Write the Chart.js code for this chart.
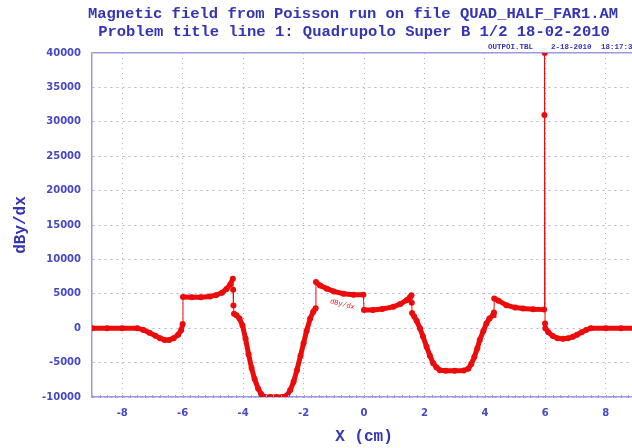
<!DOCTYPE html>
<html>
<head>
<meta charset="utf-8">
<script src="https://cdn.jsdelivr.net/npm/chart.js@4"></script>
<style>
  html, body { margin: 0; padding: 0; background: #fff; overflow: hidden; }
  #wrap { position: relative; width: 640px; height: 448px; }
</style>
</head>
<body>
<div id="wrap"><canvas id="field"></canvas></div>
<script>
// dBy/dx along X (cm) from the Poisson run
const xPos = [
  -9.0, -8.5, -8.0, -7.5, -7.3, -7.1, -6.9, -6.75, -6.6, -6.45, -6.3, -6.15, -6.05, -6.0,
  -5.99, -5.7, -5.4, -5.1, -4.9, -4.7, -4.55, -4.42, -4.34, -4.33, -4.32, -4.30,
  -4.22, -4.12, -4.02, -3.92, -3.82, -3.72, -3.62, -3.50, -3.40, -3.30, -3.10, -2.90, -2.70,
  -2.55, -2.44, -2.33, -2.22, -2.10, -2.00, -1.90, -1.78, -1.68, -1.60,
  -1.59, -1.45, -1.23, -1.00, -0.68, -0.35, -0.02,
  0.00, 0.30, 0.60, 0.97, 1.20, 1.41, 1.52, 1.57, 1.58, 1.59,
  1.66, 1.74, 1.85, 1.95, 2.07, 2.18, 2.29, 2.40, 2.51, 2.70, 3.00, 3.30,
  3.45, 3.55, 3.65, 3.75, 3.83, 3.95, 4.05, 4.15, 4.27, 4.30,
  4.31, 4.45, 4.71, 5.00, 5.26, 5.60, 5.96, 5.97, 5.98, 5.99, 6.00,
  6.10, 6.25, 6.40, 6.58, 6.75, 6.91, 7.05, 7.20, 7.35, 7.50, 8.0, 8.5, 9.0
];
const dBydx = [
  0, 0, 0, 0, -250, -650, -1100, -1450, -1700, -1700, -1450, -950, -300, 600,
  4550, 4500, 4500, 4600, 4800, 5150, 5700, 6400, 7200, 5600, 3300, 2100,
  1900, 1400, 400, -1500, -3800, -5800, -7400, -8800, -9600, -9950, -10000, -10000, -10000,
  -9800, -9000, -7800, -6100, -4000, -2200, -400, 1400, 2400, 2900,
  6700, 6200, 5750, 5350, 5000, 4850, 4850,
  2650, 2650, 2800, 3100, 3500, 4070, 4500, 4800, 3700, 2200,
  1700, 1100, 0, -1200, -2700, -4000, -5100, -5700, -6100, -6200, -6200, -6150,
  -5900, -5200, -4200, -2900, -1700, -400, 700, 1400, 1900, 2300,
  4300, 4000, 3350, 3000, 2850, 2750, 2700, 31000, 40000, 700, 0,
  -600, -1150, -1450, -1550, -1450, -1250, -950, -600, -250, 0, 0, 0, 0
];

const xTicks = [-8, -6, -4, -2, 0, 2, 4, 6, 8];
const yTicks = [-10000, -5000, 0, 5000, 10000, 15000, 20000, 25000, 30000, 35000, 40000];

const titleLines = [
  "Magnetic field from Poisson run on file QUAD_HALF_FAR1.AM",
  "Problem title line 1: Quadrupolo Super B 1/2 18-02-2010"
];
const stamp = ["OUTPOI.TBL", "2-18-2010", "18:17:3"];
const curveName = "dBy/dx";

const inkBlue = "#3434b4";
const tickBlue = "#4848c4";
const axisBlue = "#9a9adc";
const gridBlue = "#b0b0e4";
const red = "#ec0b0b";

// titles, file stamp, minor ticks and the in-plot curve name
const decorations = {
  id: "decorations",
  afterDraw(chart) {
    const { ctx, chartArea, scales: { x, y } } = chart;
    ctx.save();

    ctx.fillStyle = inkBlue;
    ctx.font = 'bold 15.5px "Liberation Mono"';
    ctx.textAlign = "center";
    ctx.textBaseline = "middle";
    ctx.fillText(titleLines[0], 353, 14);
    ctx.fillText(titleLines[1], 354, 32);

    ctx.font = 'bold 7.5px "Liberation Mono"';
    ctx.textAlign = "left";
    ctx.textBaseline = "alphabetic";
    ctx.fillText(stamp[0], 488, 49);
    ctx.fillText(stamp[1], 551, 49);
    ctx.fillText(stamp[2], 601, 49);

    // small minor ticks along the X axis
    ctx.strokeStyle = axisBlue;
    ctx.lineWidth = 1;
    ctx.beginPath();
    for (let v = -9; v <= 9.001; v += 0.25) {
      const px = Math.round(x.getPixelForValue(v)) + 0.5;
      ctx.moveTo(px, chartArea.bottom - 2);
      ctx.lineTo(px, chartArea.bottom + 1);
    }
    ctx.stroke();

    ctx.fillStyle = red;
    ctx.font = '7px "Liberation Mono"';
    ctx.textAlign = "center";
    ctx.translate(x.getPixelForValue(-0.73), y.getPixelForValue(3200));
    ctx.rotate(0.26);
    ctx.fillText(curveName, 0, 0);
    ctx.restore();
  }
};

new Chart(document.getElementById("field"), {
  type: "line",
  data: {
    datasets: [{
      data: xPos.map((v, i) => ({ x: v, y: dBydx[i] })),
      borderColor: red,
      backgroundColor: red,
      borderWidth: 5,
      pointRadius: 3,
      pointBorderWidth: 0,
      pointBackgroundColor: red,
      tension: 0,
      segment: {
        // the vertical jumps are drawn as thin connecting lines
        borderWidth: c => Math.abs(c.p1.parsed.x - c.p0.parsed.x) < 0.025 ? 1 : 5
      }
    }]
  },
  options: {
    responsive: true,
    maintainAspectRatio: false,
    animation: false,
    layout: { padding: { top: 53, right: 3, left: 0, bottom: 0 } },
    plugins: { legend: { display: false }, tooltip: { enabled: false } },
    scales: {
      x: {
        type: "linear",
        min: -9,
        max: 9,
        afterFit: s => { s.height = 51; },
        afterBuildTicks: s => { s.ticks = xTicks.map(v => ({ value: v })); },
        ticks: {
          padding: 10,
          color: tickBlue,
          font: { family: "DejaVu Sans", size: 10, weight: "bold" },
          callback: v => String(v)
        },
        grid: { color: gridBlue, lineWidth: 1, drawTicks: false },
        border: { color: axisBlue, width: 1.5, dash: [1, 4] },
        title: {
          display: true,
          text: "X (cm)",
          color: inkBlue,
          font: { family: "Liberation Mono", size: 16, weight: "bold" },
          padding: { top: 0, bottom: 1 }
        }
      },
      y: {
        min: -10000,
        max: 40000,
        afterFit: s => { s.width = 92; },
        afterBuildTicks: s => { s.ticks = yTicks.map(v => ({ value: v })); },
        ticks: {
          padding: 11,
          color: tickBlue,
          font: { family: "DejaVu Sans", size: 10, weight: "bold" },
          callback: v => String(v)
        },
        grid: {
          color: c => (c.tick && c.tick.value === 40000) ? axisBlue : gridBlue,
          lineWidth: c => (c.tick && c.tick.value === 40000) ? 1.5 : 1,
          drawTicks: false
        },
        border: {
          color: axisBlue,
          width: 1.5,
          dash: c => (c.tick && c.tick.value === 40000) ? [] : [2, 4]
        },
        title: {
          display: true,
          text: "dBy/dx",
          color: inkBlue,
          font: { family: "Liberation Mono", size: 16, weight: "bold" },
          padding: { top: 11, bottom: 0 }
        }
      }
    }
  },
  plugins: [decorations]
});
</script>
</body>
</html>
